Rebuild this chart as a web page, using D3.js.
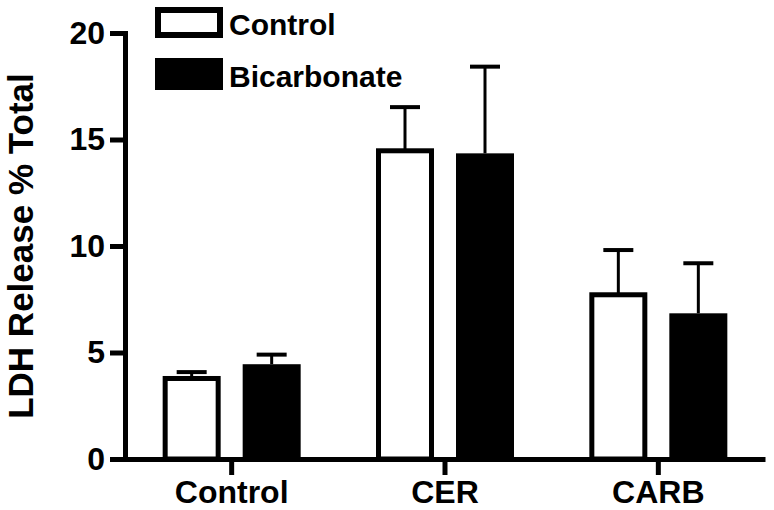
<!DOCTYPE html>
<html>
<head>
<meta charset="utf-8">
<script src="https://cdn.jsdelivr.net/npm/d3@7/dist/d3.min.js"></script>
<style>
  html, body { margin: 0; padding: 0; background: #fff; }
  svg { display: block; }
  text { font-family: "Liberation Sans", Arial, Helvetica, sans-serif; font-weight: bold; fill: #000; }
</style>
</head>
<body>
<svg id="chart" width="774" height="510"></svg>
<script>
const categories = ["Control", "CER", "CARB"];
const series = ["Control", "Bicarbonate"];
const controlMeans = [3.78, 14.47, 7.71];
const controlErrors = [0.30, 2.05, 2.10];
const bicarbMeans = [4.45, 14.35, 6.84];
const bicarbErrors = [0.45, 4.07, 2.35];
const yTicks = [0, 5, 10, 15, 20];
const yLabel = "LDH Release % Total";

const svg = d3.select("#chart");

const y = d3.scaleLinear().domain([0, 20]).range([459, 33]);
const x = d3.scaleBand().domain(categories).range([125, 765]).padding(0);
const xSub = d3.scaleBand().domain(series).range([-80, 80]).padding(0);

const data = [];
categories.forEach((c, i) => {
  data.push({cat: c, s: "Control", v: controlMeans[i], e: controlErrors[i]});
  data.push({cat: c, s: "Bicarbonate", v: bicarbMeans[i], e: bicarbErrors[i]});
});

const barW = 53;
const cx = d => x(d.cat) + x.bandwidth() / 2 + xSub(d.s) + xSub.bandwidth() / 2;

// error bars
const eb = svg.append("g");
eb.selectAll("line.stem").data(data).join("line")
  .attr("x1", cx).attr("x2", cx)
  .attr("y1", d => y(d.v)).attr("y2", d => y(d.v + d.e))
  .attr("stroke", "#000").attr("stroke-width", 3);
eb.selectAll("line.cap").data(data).join("line")
  .attr("x1", d => cx(d) - 15).attr("x2", d => cx(d) + 15)
  .attr("y1", d => y(d.v + d.e)).attr("y2", d => y(d.v + d.e))
  .attr("stroke", "#000").attr("stroke-width", 4);

// bars
svg.append("g").selectAll("rect").data(data).join("rect")
  .attr("x", d => d.s === "Control" ? cx(d) - barW / 2 : cx(d) - (barW + 5) / 2)
  .attr("width", d => d.s === "Control" ? barW : barW + 5)
  .attr("y", d => y(d.v))
  .attr("height", d => y(0) - y(d.v))
  .attr("fill", d => d.s === "Control" ? "#fff" : "#000")
  .attr("stroke", d => d.s === "Control" ? "#000" : "none")
  .attr("stroke-width", 5);

// y axis
const yAxis = svg.append("g").attr("transform", "translate(125,0)")
  .call(d3.axisLeft(y).tickValues(yTicks).tickSize(15).tickSizeOuter(0).tickPadding(5).tickFormat(d3.format("d")));
yAxis.select(".domain").attr("stroke", "#000").attr("stroke-width", 5).attr("stroke-linecap", "square");
yAxis.selectAll(".tick line").attr("stroke", "#000").attr("stroke-width", 5);

// x axis
const xAxis = svg.append("g").attr("transform", "translate(0,459)")
  .call(d3.axisBottom(x).tickSize(16).tickSizeOuter(0).tickPadding(5));
xAxis.select(".domain").attr("stroke", "#000").attr("stroke-width", 5);
xAxis.selectAll(".tick line").attr("stroke", "#000").attr("stroke-width", 5);

svg.selectAll(".tick text")
  .attr("font-size", null).attr("font-family", null)
  .style("font-size", "32px");

// y title
svg.append("text")
  .attr("transform", "translate(33,246) rotate(-90)")
  .attr("text-anchor", "middle")
  .style("font-size", "35px")
  .text(yLabel);

// legend
const legend = svg.append("g");
legend.append("rect").attr("x", 158).attr("y", 10).attr("width", 62).attr("height", 25)
  .attr("fill", "#fff").attr("stroke", "#000").attr("stroke-width", 6);
legend.append("rect").attr("x", 155).attr("y", 58).attr("width", 68).attr("height", 32)
  .attr("fill", "#000");
legend.append("text").attr("x", 229).attr("y", 35).style("font-size", "30px").text(series[0]);
legend.append("text").attr("x", 229).attr("y", 87).style("font-size", "30px").text(series[1]);
</script>
</body>
</html>
